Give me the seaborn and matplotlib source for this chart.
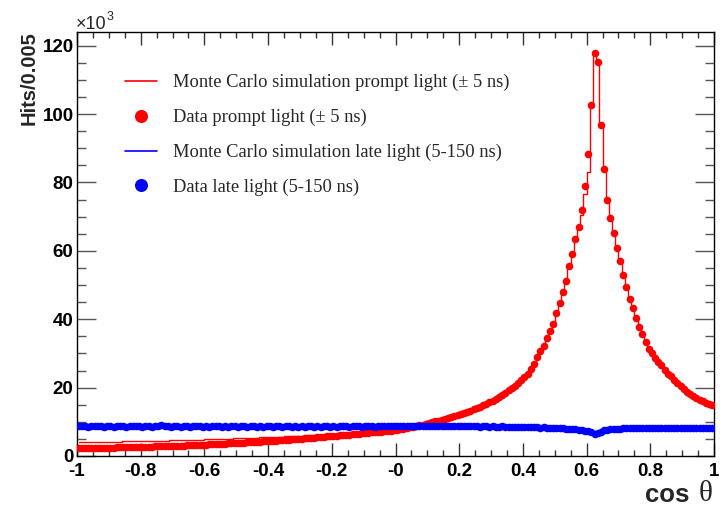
import numpy as np
import pandas as pd
import matplotlib
matplotlib.use("Agg")
import matplotlib.pyplot as plt
from matplotlib.lines import Line2D
from matplotlib.ticker import MultipleLocator, FixedLocator, FixedFormatter
import seaborn as sns

# ---- histogram binning: 200 bins of width 0.01 over cos(theta) in [-1, 1] ----
n_bins = 200
bin_edges = np.linspace(-1.0, 1.0, n_bins + 1)
bin_centres = 0.5 * (bin_edges[:-1] + bin_edges[1:])

# ---- data, prompt light (+-5 ns), thousands of hits per bin ----
data_prompt = [
    2.30, 2.31, 2.33, 2.34, 2.36, 2.37, 2.39, 2.40, 2.42, 2.44,
    2.46, 2.48, 2.50, 2.52, 2.54, 2.56, 2.58, 2.60, 2.62, 2.65,
    2.67, 2.70, 2.72, 2.75, 2.78, 2.81, 2.84, 2.87, 2.90, 2.93,
    2.96, 3.00, 3.03, 3.07, 3.10, 3.14, 3.18, 3.22, 3.26, 3.30,
    3.34, 3.38, 3.43, 3.47, 3.52, 3.56, 3.61, 3.66, 3.71, 3.76,
    3.81, 3.87, 3.92, 3.98, 4.04, 4.10, 4.16, 4.22, 4.28, 4.34,
    4.40, 4.47, 4.53, 4.60, 4.67, 4.74, 4.81, 4.88, 4.95, 5.02,
    5.09, 5.17, 5.24, 5.32, 5.40, 5.47, 5.55, 5.63, 5.71, 5.79,
    5.87, 5.95, 6.03, 6.11, 6.19, 6.28, 6.36, 6.45, 6.53, 6.62,
    6.70, 6.79, 6.88, 6.97, 7.06, 7.15, 7.24, 7.33, 7.42, 7.51,
    7.60, 7.80, 8.00, 8.20, 8.40, 8.60, 8.80, 9.00, 9.20, 9.40,
    9.60, 9.80, 10.1, 10.3, 10.6, 10.8, 11.1, 11.4, 11.7, 12.0,
    12.3, 12.6, 12.9, 13.3, 13.6, 14.0, 14.4, 14.8, 15.2, 15.7,
    16.2, 16.7, 17.3, 17.9, 18.5, 19.2, 19.9, 20.6, 21.3, 22.1,
    23.1, 24.1, 25.3, 27.0, 28.9, 30.7, 32.2, 34.5, 36.6, 38.7,
    41.8, 44.7, 48.0, 51.3, 55.7, 59.2, 63.5, 67.0, 71.8, 78.9,
    88.2, 102.5, 117.9, 115.3, 96.9, 84.0, 75.0, 69.6, 65.2, 60.8,
    57.0, 52.9, 49.3, 45.9, 43.3, 40.3, 37.7, 35.6, 33.4, 31.3,
    30.0, 28.8, 27.6, 26.5, 25.2, 24.1, 23.3, 22.3, 21.3, 20.4,
    19.5, 18.8, 18.2, 17.6, 17.0, 16.5, 16.0, 15.6, 15.2, 14.9,
]

# ---- Monte Carlo, prompt light (+-5 ns) ----
mc_prompt = [
    4.00, 4.02, 4.04, 4.06, 4.08, 4.10, 4.11, 4.12, 4.14, 4.16,
    4.18, 4.20, 4.22, 4.23, 4.25, 4.27, 4.29, 4.30, 4.32, 4.34,
    4.36, 4.38, 4.40, 4.42, 4.44, 4.46, 4.48, 4.50, 4.52, 4.55,
    4.57, 4.60, 4.62, 4.65, 4.68, 4.70, 4.73, 4.76, 4.79, 4.82,
    4.85, 4.88, 4.91, 4.94, 4.97, 5.00, 5.03, 5.07, 5.10, 5.13,
    5.16, 5.20, 5.23, 5.27, 5.30, 5.34, 5.38, 5.41, 5.45, 5.49,
    5.53, 5.57, 5.61, 5.65, 5.69, 5.73, 5.77, 5.81, 5.85, 5.89,
    5.94, 5.98, 6.03, 6.07, 6.12, 6.16, 6.21, 6.26, 6.30, 6.35,
    6.40, 6.45, 6.50, 6.55, 6.60, 6.65, 6.70, 6.76, 6.81, 6.87,
    6.92, 6.98, 7.04, 7.10, 7.16, 7.22, 7.28, 7.34, 7.40, 7.47,
    7.60, 7.80, 8.00, 8.20, 8.40, 8.60, 8.80, 9.00, 9.20, 9.40,
    9.60, 9.80, 10.1, 10.3, 10.6, 10.8, 11.1, 11.4, 11.7, 12.0,
    12.3, 12.6, 12.9, 13.3, 13.6, 14.0, 14.4, 14.8, 15.2, 15.7,
    16.2, 16.7, 17.3, 17.9, 18.5, 19.2, 19.9, 20.6, 21.3, 22.0,
    23.0, 24.0, 25.2, 26.8, 28.7, 30.5, 32.0, 34.3, 36.4, 38.5,
    41.5, 44.5, 47.7, 51.0, 55.3, 58.9, 63.0, 66.5, 70.5, 76.5,
    83.0, 102.0, 117.5, 114.8, 96.5, 83.5, 75.0, 69.4, 65.0, 60.7,
    56.9, 52.8, 49.2, 45.8, 43.2, 40.2, 37.6, 35.5, 33.3, 31.2,
    29.9, 28.7, 27.5, 26.4, 25.2, 24.1, 23.2, 22.2, 21.3, 20.4,
    19.5, 18.8, 18.2, 17.6, 17.0, 16.5, 16.0, 15.6, 15.2, 14.9,
]

# ---- data, late light (5-150 ns) ----
data_late = [
    8.7, 8.8, 8.7, 8.6, 8.7, 8.8, 8.7, 8.7, 8.6, 8.7,
    8.7, 8.6, 8.7, 8.8, 8.7, 8.6, 8.7, 8.7, 8.8, 8.7,
    8.6, 8.7, 8.7, 8.6, 8.8, 8.7, 9.0, 8.8, 8.7, 8.6,
    8.7, 8.8, 8.6, 8.7, 8.7, 8.6, 8.7, 8.8, 8.7, 8.6,
    8.7, 8.6, 8.7, 8.7, 8.8, 8.6, 8.7, 8.6, 8.7, 8.7,
    8.6, 8.7, 8.7, 8.6, 8.7, 8.8, 8.6, 8.7, 8.6, 8.7,
    8.7, 8.6, 8.9, 8.7, 8.6, 8.7, 8.7, 8.6, 8.7, 8.6,
    8.7, 8.6, 8.7, 8.7, 8.6, 8.7, 8.6, 8.7, 8.7, 8.6,
    8.7, 8.6, 8.7, 8.9, 8.7, 8.6, 8.7, 8.8, 8.7, 8.6,
    8.7, 8.8, 8.7, 8.6, 8.7, 8.8, 8.7, 8.8, 8.7, 8.8,
    8.8, 8.7, 8.8, 8.8, 8.7, 8.8, 8.8, 8.7, 8.8, 8.8,
    8.8, 8.7, 8.8, 8.8, 8.7, 8.8, 8.7, 8.8, 8.7, 8.8,
    8.7, 8.8, 8.7, 8.7, 8.8, 8.7, 8.6, 8.7, 8.7, 8.6,
    8.7, 8.6, 8.6, 8.7, 8.6, 8.5, 8.6, 8.6, 8.5, 8.5,
    8.5, 8.4, 8.5, 8.4, 8.4, 8.3, 8.4, 8.3, 8.3, 8.2,
    8.2, 8.1, 8.1, 8.0, 8.0, 7.9, 7.8, 7.7, 7.6, 7.4,
    7.2, 6.9, 6.5, 6.6, 7.1, 7.5, 7.7, 7.8, 7.9, 8.0,
    8.0, 8.1, 8.1, 8.2, 8.1, 8.2, 8.2, 8.3, 8.2, 8.3,
    8.3, 8.2, 8.3, 8.3, 8.2, 8.3, 8.3, 8.2, 8.3, 8.2,
    8.3, 8.2, 8.3, 8.2, 8.2, 8.3, 8.2, 8.2, 8.1, 8.2,
]

# ---- Monte Carlo, late light (5-150 ns) ----
mc_late = [
    8.7, 8.7, 8.7, 8.7, 8.7, 8.7, 8.7, 8.7, 8.7, 8.7,
    8.7, 8.7, 8.7, 8.7, 8.7, 8.7, 8.7, 8.7, 8.7, 8.7,
    8.7, 8.7, 8.7, 8.7, 8.7, 8.7, 8.8, 8.7, 8.7, 8.7,
    8.7, 8.7, 8.7, 8.7, 8.7, 8.7, 8.7, 8.7, 8.7, 8.7,
    8.7, 8.7, 8.7, 8.7, 8.7, 8.7, 8.7, 8.7, 8.7, 8.7,
    8.7, 8.7, 8.7, 8.7, 8.7, 8.7, 8.7, 8.7, 8.7, 8.7,
    8.7, 8.7, 8.7, 8.7, 8.7, 8.7, 8.7, 8.7, 8.7, 8.7,
    8.7, 8.7, 8.7, 8.7, 8.7, 8.7, 8.7, 8.7, 8.7, 8.7,
    8.7, 8.7, 8.7, 8.7, 8.7, 8.7, 8.7, 8.7, 8.7, 8.7,
    8.7, 8.7, 8.7, 8.7, 8.7, 8.7, 8.7, 8.7, 8.7, 8.7,
    8.8, 8.8, 8.8, 8.8, 8.8, 8.8, 8.8, 8.8, 8.8, 8.8,
    8.8, 8.8, 8.8, 8.8, 8.8, 8.8, 8.8, 8.8, 8.8, 8.8,
    8.7, 8.7, 8.7, 8.7, 8.7, 8.7, 8.7, 8.7, 8.7, 8.7,
    8.7, 8.6, 8.6, 8.6, 8.6, 8.6, 8.6, 8.6, 8.5, 8.5,
    8.5, 8.5, 8.5, 8.4, 8.4, 8.4, 8.4, 8.3, 8.3, 8.3,
    8.2, 8.2, 8.1, 8.1, 8.0, 7.9, 7.8, 7.7, 7.6, 7.4,
    7.2, 6.9, 6.6, 6.7, 7.1, 7.5, 7.7, 7.8, 7.9, 8.0,
    8.0, 8.1, 8.1, 8.1, 8.1, 8.2, 8.2, 8.2, 8.2, 8.2,
    8.2, 8.2, 8.2, 8.2, 8.2, 8.2, 8.2, 8.2, 8.2, 8.2,
    8.2, 8.2, 8.2, 8.2, 8.2, 8.2, 8.2, 8.2, 8.2, 8.2,
]

x_tick_values = [-1.0, -0.8, -0.6, -0.4, -0.2, 0.0, 0.2, 0.4, 0.6, 0.8, 1.0]
x_tick_labels = ["-1", "-0.8", "-0.6", "-0.4", "-0.2", "-0", "0.2", "0.4", "0.6", "0.8", "1"]
y_tick_values = [0, 20, 40, 60, 80, 100, 120]
y_tick_labels = ["0", "20", "40", "60", "80", "100", "120"]

legend_labels = [
    "Monte Carlo simulation prompt light (\u00b1 5 ns)",
    "Data prompt light (\u00b1 5 ns)",
    "Monte Carlo simulation late light (5-150 ns)",
    "Data late light (5-150 ns)",
]

frame = pd.DataFrame({
    "cos": bin_centres,
    "data_prompt": data_prompt,
    "mc_prompt": mc_prompt,
    "data_late": data_late,
    "mc_late": mc_late,
})

sns.set_theme(style="white")
plt.rcParams["font.family"] = ["Liberation Sans", "DejaVu Sans"]
plt.rcParams["axes.linewidth"] = 1.0

W, H = 723, 508
fig = plt.figure(figsize=(W / 100, H / 100), dpi=100)
fig.patch.set_facecolor("white")
ax = fig.add_axes([77 / W, 52 / H, (714 - 77) / W, (456 - 32.3) / H])
ax.set_facecolor("white")

RED = "#ff0000"
BLUE = "#0000ff"

# Monte Carlo histograms as step lines
sns.lineplot(data=frame, x="cos", y="mc_prompt", color=RED, lw=1.0,
             drawstyle="steps-mid", estimator=None, sort=False, ax=ax, zorder=2)
sns.lineplot(data=frame, x="cos", y="mc_late", color=BLUE, lw=1.0,
             drawstyle="steps-mid", estimator=None, sort=False, ax=ax, zorder=2)

# Data points
sns.scatterplot(data=frame, x="cos", y="data_prompt", color=RED, s=30,
                linewidth=0, ax=ax, zorder=3, legend=False)
sns.scatterplot(data=frame, x="cos", y="data_late", color=BLUE, s=30,
                linewidth=0, ax=ax, zorder=4, legend=False)

ax.set_xlim(-1, 1)
ax.set_ylim(0, 123.9)
ax.set_xlabel("")
ax.set_ylabel("")

for side in ["top", "right", "bottom", "left"]:
    ax.spines[side].set_visible(True)
    ax.spines[side].set_color("black")
    ax.spines[side].set_linewidth(1.0)

ax.xaxis.set_major_locator(FixedLocator(x_tick_values))
ax.xaxis.set_major_formatter(FixedFormatter(x_tick_labels))
ax.xaxis.set_minor_locator(MultipleLocator(0.05))
ax.yaxis.set_major_locator(FixedLocator(y_tick_values))
ax.yaxis.set_major_formatter(FixedFormatter(y_tick_labels))
ax.yaxis.set_minor_locator(MultipleLocator(5))

ax.tick_params(axis="x", which="major", direction="in", top=True, bottom=True,
               length=9.4, width=1.0, color="#333333", pad=5)
ax.tick_params(axis="x", which="minor", direction="in", top=True, bottom=True,
               length=4.6, width=1.0, color="#333333")
ax.tick_params(axis="y", which="major", direction="in", left=True, right=True,
               length=13.7, width=1.0, color="#555555", pad=2.5)
ax.tick_params(axis="y", which="minor", direction="in", left=True, right=True,
               length=6.8, width=1.0, color="#555555")
for lab in ax.get_xticklabels() + ax.get_yticklabels():
    lab.set_fontweight("bold")
    lab.set_fontsize(13.5)
    lab.set_color("black")

# axis titles
fig.text(29 / W, 1 - 31 / H, "Hits/0.005", rotation=90, ha="center", va="top",
         fontsize=14.5, fontweight="bold", family=["Liberation Sans"])
fig.text(76 / W, 1 - 29 / H, "\u00d710", ha="left", va="baseline",
         fontsize=13, family=["Liberation Sans"])
fig.text(107 / W, 1 - 20 / H, "3", ha="left", va="baseline",
         fontsize=9, family=["Liberation Sans"])
fig.text(689 / W, 1 - 502 / H, "cos", ha="right", va="baseline",
         fontsize=18.5, fontweight="bold", family=["Liberation Sans"])
fig.text(713 / W, 1 - 501 / H, "\u03b8", ha="right", va="baseline",
         fontsize=21, family=["Liberation Serif", "DejaVu Serif"])

# legend
handles = [
    Line2D([], [], color=RED, lw=1.2),
    Line2D([], [], color=RED, marker="o", ls="none", markersize=9.4, markeredgewidth=0),
    Line2D([], [], color=BLUE, lw=1.2),
    Line2D([], [], color=BLUE, marker="o", ls="none", markersize=9.4, markeredgewidth=0),
]
ax.legend(handles, legend_labels, loc="upper left",
          bbox_to_anchor=(125 / W, 1 - 74 / H), bbox_transform=fig.transFigure,
          frameon=False, borderpad=0, borderaxespad=0, handlelength=1.75,
          handletextpad=0.85, labelspacing=0.95, numpoints=1,
          prop={"family": ["Liberation Serif"], "size": 13.3})

fig.savefig("out.png", dpi=100, facecolor="white")
